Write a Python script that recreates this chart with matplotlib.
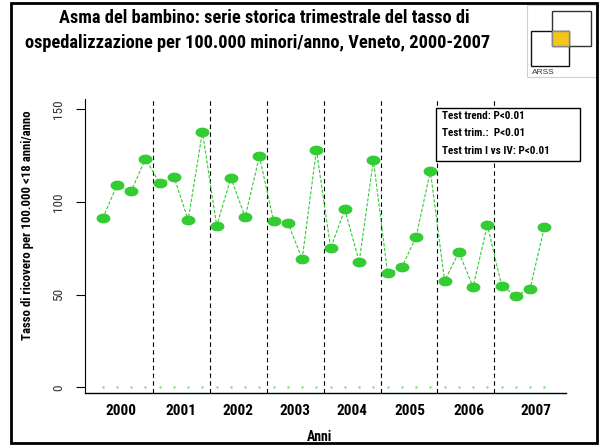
import numpy as np
import matplotlib
matplotlib.use("Agg")
import matplotlib.pyplot as plt
from matplotlib.patches import Rectangle
from matplotlib.path import Path

# =========================
# DATA
# =========================
# quarterly hospitalisation rate per 100.000 minors/year, 2000 Q1 .. 2007 Q4
rates = [91.2, 109.0, 105.8, 123.4,
         110.1, 113.7, 90.3, 137.9,
         87.2, 113.0, 91.9, 124.7,
         89.6, 88.8, 69.2, 128.1,
         75.2, 96.0, 67.8, 122.5,
         61.5, 64.8, 81.3, 116.6,
         57.4, 72.9, 54.1, 87.6,
         54.8, 49.4, 53.2, 86.5]
years = ["2000", "2001", "2002", "2003", "2004", "2005", "2006", "2007"]
year_pos = [2.3, 6.5, 10.5, 14.5, 18.5, 22.6, 26.7, 31.4]
year_breaks = [4.5, 8.5, 12.5, 16.5, 20.5, 24.5, 28.5]
y_ticks = [0, 50, 100, 150]
tests = ["Test trend: P<0.01", "Test trim.:  P<0.01", "Test trim I vs IV: P<0.01"]

title1 = "Asma del bambino: serie storica trimestrale del tasso di"
title2 = "ospedalizzazione per 100.000 minori/anno, Veneto, 2000-2007"
ylab = "Tasso di ricovero per 100.000 <18 anni/anno"

FONT = ["Roboto Condensed", "Liberation Sans", "DejaVu Sans"]
plt.rcParams["font.family"] = FONT

W, H = 599, 445
GREEN = "#33cc33"


def px(x, y):
    # pixel position (from top-left) -> figure fraction
    return x / W, 1 - y / H


fig = plt.figure(figsize=(W / 100, H / 100), dpi=100)
fig.patch.set_facecolor("white")

# plot area
l, t = px(85, 99)
r, b = px(566, 393)
ax = fig.add_axes([l, b, r - l, t - b])

q = np.arange(1, len(rates) + 1)

# ellipse marker
th = np.linspace(0, 2 * np.pi, 40)
ell = Path(np.column_stack([np.cos(th), 0.67 * np.sin(th)]))

ax.plot(q, rates, color=GREEN, lw=0.8, ls=(0, (3, 1.5)), zorder=2)
ax.plot(q, rates, ls="none", marker=ell, ms=9, color=GREEN, mec=GREEN, zorder=3)
ax.plot(q, np.zeros(len(q)), ls="none", marker=".", ms=1.5, color="#7ee07e", zorder=2)

for xb in year_breaks:
    ax.axvline(xb, color="black", lw=0.8, ls=(0, (4, 3)), zorder=1)

ax.set_xlim(-0.243, 33.52)
ax.set_ylim(-3.08, 155.6)

ax.spines["top"].set_visible(False)
ax.spines["right"].set_visible(False)
ax.spines["left"].set_linewidth(0.8)
ax.spines["bottom"].set_linewidth(1.0)

ax.set_yticks(y_ticks)
ax.set_yticklabels([str(v) for v in y_ticks], rotation=90, va="center", fontsize=9.5,
                   color="#333333")
ax.tick_params(axis="y", length=6.5, width=0.8, pad=8)
ax.set_xticks(year_pos)
ax.set_xticklabels(years, fontsize=11, fontweight="bold")
ax.tick_params(axis="x", length=0, pad=8)

# test box
bx0, by1 = px(436, 108)
bx1, by0 = px(580, 161)
fig.patches.append(Rectangle((bx0, by0), bx1 - bx0, by1 - by0, transform=fig.transFigure,
                             fill=True, facecolor="white", edgecolor="black", lw=1.0, zorder=5))
for s, yy in zip(tests, [116, 133.5, 151]):
    fig.text(*px(442, yy), s, fontsize=8, fontweight="bold", va="center", ha="left", zorder=6)

# titles and labels
fig.text(*px(264, 18), title1, fontsize=13.2, fontweight="bold", ha="center", va="center")
fig.text(*px(258, 43), title2, fontsize=13.2, fontweight="bold", ha="center", va="center")
fig.text(*px(28, 225), ylab, fontsize=9.2, fontweight="bold", rotation=90, ha="center", va="center")
fig.text(*px(320, 437), "Anni", fontsize=10, fontweight="bold", ha="center", va="center")


# ARSS logo
def rect(x0, y0, x1, y1, **kw):
    a, c = px(x0, y1)
    d, e = px(x1, y0)
    fig.patches.append(Rectangle((a, c), d - a, e - c, transform=fig.transFigure, **kw))


rect(527, 5, 596, 77, fill=False, edgecolor="#d0d0d0", lw=0.8)
rect(552, 11, 591, 46, fill=False, edgecolor="#333333", lw=1.0)
rect(531, 31, 569, 66, fill=False, edgecolor="#111111", lw=1.0)
rect(552, 31, 569, 46, facecolor="#f5c518", edgecolor="#888888", lw=1.0)
fig.text(*px(532, 73), "ARSS", fontsize=6, color="#333333", ha="left", va="center",
         family=["Liberation Sans", "DejaVu Sans"])

# outer frame
rect(11, 3, 597, 443, fill=False, edgecolor="black", lw=2.0)

fig.savefig("out.png", dpi=100)
